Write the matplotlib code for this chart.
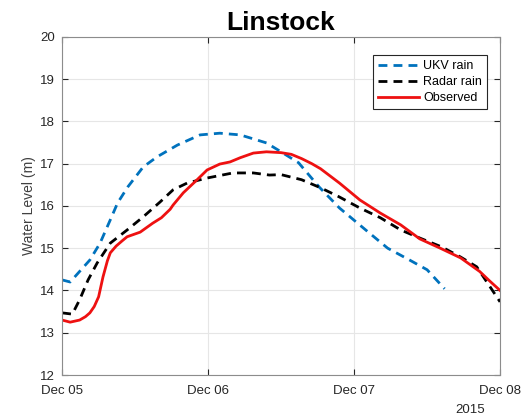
import numpy as np
import matplotlib
matplotlib.use("Agg")
import matplotlib.pyplot as plt
import matplotlib.dates as mdates
from datetime import datetime, timedelta

plt.rcParams['font.family'] = ['Liberation Sans', 'DejaVu Sans']

start = datetime(2015, 12, 5)

# days since Dec 05 and water level (m)
ukv_days = [0.0, 0.055, 0.19, 0.26, 0.33, 0.38, 0.45, 0.555, 0.65, 0.79, 0.945,
            1.08, 1.22, 1.4, 1.49, 1.62, 1.76, 1.9, 2.08, 2.23, 2.38, 2.5, 2.62]
ukv_level = [14.25, 14.2, 14.72, 15.12, 15.67, 16.07, 16.45, 16.92, 17.16, 17.44, 17.68,
             17.72, 17.68, 17.49, 17.3, 17.02, 16.45, 15.95, 15.43, 15.0, 14.72, 14.49, 14.04]

radar_days = [0.0, 0.07, 0.12, 0.178, 0.24, 0.33, 0.445, 0.555, 0.67, 0.76, 0.856,
              0.993, 1.17, 1.31, 1.42, 1.5, 1.64, 1.77, 1.9, 2.04, 2.18, 2.32,
              2.45, 2.6, 2.73, 2.84, 3.0]
radar_level = [13.47, 13.44, 13.78, 14.25, 14.65, 15.12, 15.43, 15.74, 16.09, 16.38, 16.54,
               16.66, 16.78, 16.78, 16.73, 16.74, 16.62, 16.43, 16.21, 15.95, 15.72, 15.43,
               15.24, 15.03, 14.79, 14.56, 13.73]

obs_days = [0.0, 0.055, 0.12, 0.16, 0.19, 0.22, 0.25, 0.28, 0.31, 0.33, 0.37, 0.41,
            0.445, 0.535, 0.62, 0.68, 0.71, 0.74, 0.76, 0.83, 0.925, 0.993, 1.08,
            1.15, 1.22, 1.31, 1.4, 1.5, 1.57, 1.64, 1.71, 1.77, 1.9, 2.04, 2.18,
            2.32, 2.45, 2.59, 2.73, 2.86, 2.93, 3.0]
obs_level = [13.3, 13.25, 13.3, 13.38, 13.47, 13.62, 13.85, 14.32, 14.7, 14.89, 15.05, 15.17,
             15.27, 15.38, 15.59, 15.72, 15.82, 15.92, 16.02, 16.31, 16.62, 16.85, 16.99,
             17.04, 17.14, 17.25, 17.28, 17.26, 17.22, 17.12, 17.0, 16.88, 16.54, 16.14, 15.83,
             15.55, 15.22, 15.0, 14.77, 14.45, 14.22, 14.0]


def to_dates(days):
    return [start + timedelta(days=d) for d in days]


fig = plt.figure(figsize=(5.22, 4.17), dpi=100)
ax = fig.add_axes([0.119, 0.1007, 0.839, 0.811])

ax.plot(to_dates(ukv_days), ukv_level, color='#0072BD', lw=2.0, ls=(0, (3.2, 2.2)), label='UKV rain')
ax.plot(to_dates(radar_days), radar_level, color='black', lw=2.0, ls=(0, (3.2, 2.2)), label='Radar rain')
ax.plot(to_dates(obs_days), obs_level, color='#ee1111', lw=2.0, label='Observed')

ax.set_xlim(start, start + timedelta(days=3))
ax.set_ylim(12, 20)
ax.set_xticks(to_dates([0, 1, 2, 3]))
ax.xaxis.set_major_formatter(mdates.DateFormatter('%b %d'))
ax.set_yticks(range(12, 21))

ax.grid(True, color='#e6e6e6', lw=0.8)
ax.set_axisbelow(True)
ax.tick_params(direction='in', top=True, right=True, length=4, width=0.8,
               colors='#262626', labelsize=9.5, labelcolor='#262626')
ax.tick_params(axis='x', pad=7)
ax.tick_params(axis='y', pad=5)
for s in ax.spines.values():
    s.set_color('#8c8c8c')
    s.set_linewidth(0.8)

ax.set_ylabel('Water Level (m)', fontsize=10, color='#404040', labelpad=3)
ax.set_title('Linstock', fontsize=19, fontweight='bold', pad=5)
fig.text(0.9, 0.01, '2015', fontsize=9.5, color='#262626', ha='center')

leg = ax.legend(loc='upper right', bbox_to_anchor=(0.984, 0.965), fontsize=9,
                handlelength=3.3, handletextpad=0.3, borderpad=0.4, labelspacing=0.32,
                fancybox=False, framealpha=1)
leg.get_frame().set_edgecolor('#262626')
leg.get_frame().set_linewidth(0.8)

fig.savefig('out.png', dpi=100)
